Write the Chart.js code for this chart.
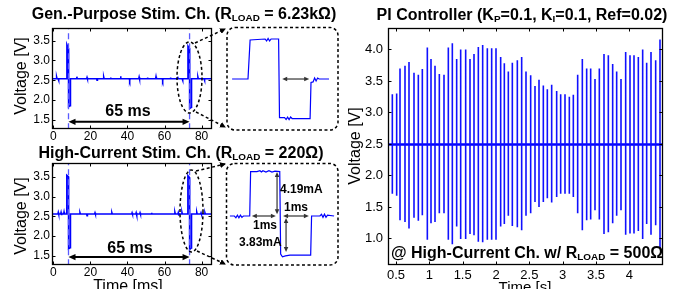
<!DOCTYPE html>
<html><head><meta charset="utf-8">
<script src="https://cdn.jsdelivr.net/npm/chart.js@4.4.1/dist/chart.umd.min.js"></script>
<style>
html,body{margin:0;padding:0;background:#fff;}
#wrap{position:relative;width:679px;height:289px;overflow:hidden;font-family:"Liberation Sans",Arial,sans-serif;background:#fff;}
canvas{position:absolute;left:0;top:0;}
.t{position:absolute;white-space:nowrap;color:#000;line-height:1;transform:translate(-50%,-50%);}
.l{transform:translate(0,-50%);}
.r{transform:translate(-50%,-50%) rotate(-90deg);}
.b{font-weight:bold;}
sub{font-size:62%;vertical-align:-0.2em;line-height:0;}
svg{position:absolute;left:0;top:0;}
</style></head>
<body>
<div id="wrap">
<canvas id="cTL" width="679" height="289"></canvas>
<canvas id="cBL" width="679" height="289"></canvas>
<canvas id="cIT" width="679" height="289"></canvas>
<canvas id="cIB" width="679" height="289"></canvas>
<canvas id="cR" width="679" height="289"></canvas>
<svg width="679" height="289">
<defs>
<marker id="ah" markerWidth="6" markerHeight="6" refX="5" refY="3" orient="auto" markerUnits="userSpaceOnUse">
<path d="M0,0 L6,3 L0,6 z" fill="#000"/></marker>
</defs>
<g fill="none" stroke="#000" stroke-width="1.5" stroke-dasharray="3,2.5">
<ellipse cx="189.5" cy="77.5" rx="12.5" ry="35.5"/>
<ellipse cx="191.5" cy="211" rx="11.5" ry="41"/>
<line x1="195" y1="43" x2="225" y2="29" marker-end="url(#ah)"/>
<line x1="196" y1="112" x2="225" y2="127" marker-end="url(#ah)"/>
<line x1="196" y1="171" x2="225" y2="164" marker-end="url(#ah)"/>
<line x1="197" y1="251" x2="225" y2="264" marker-end="url(#ah)"/>
<rect x="227" y="27.5" width="111" height="102.5" rx="8"/>
<rect x="226.5" y="163.5" width="111.5" height="101.5" rx="8"/>
</g>
</svg>
<div class="t b" style="left:184px;top:14px;font-size:16px;">Gen.-Purpose Stim. Ch. (R<sub>LOAD</sub> = 6.23kΩ)</div>
<div class="t b" style="left:181px;top:153px;font-size:16px;">High-Current Stim. Ch. (R<sub>LOAD</sub> = 220Ω)</div>
<div class="t b" style="left:522px;top:15px;font-size:16px;">PI Controller (K<sub>P</sub>=0.1, K<sub>I</sub>=0.1, Ref=0.02)</div>
<div class="t r" style="left:21px;top:76px;font-size:16px;">Voltage [V]</div>
<div class="t r" style="left:21px;top:216px;font-size:16px;">Voltage [V]</div>
<div class="t r" style="left:355px;top:146px;font-size:16px;">Voltage [V]</div>
<div class="t" style="left:128px;top:286px;font-size:16px;">Time [ms]</div>
<div class="t" style="left:525px;top:286px;font-size:15px;">Time [s]</div>
<div class="t b" style="left:128px;top:111px;font-size:16px;">65 ms</div>
<div class="t b" style="left:130px;top:248px;font-size:16px;">65 ms</div>
<div class="t b l" style="left:391px;top:253px;font-size:16px;">@ High-Current Ch. w/ R<sub>LOAD</sub> = 500Ω</div>
<div class="t b l" style="left:280px;top:189px;font-size:12px;">4.19mA</div>
<div class="t b l" style="left:284px;top:207px;font-size:12px;">1ms</div>
<div class="t b l" style="left:253px;top:225px;font-size:12px;">1ms</div>
<div class="t b l" style="left:239px;top:242px;font-size:12px;">3.83mA</div>
</div>
<script>
// ---------------- DATA ----------------
// General-purpose channel trace [time ms, voltage V]
const gpTrace = [[-1,2.54],[1.6,2.54],[1.8,2.58],[2.0,2.54],[2.6,2.54],[2.8,2.50],[3.0,2.54],
 [7.3,2.54],[7.35,3.40],[8.2,3.30],[8.25,1.83],[9.2,1.86],[9.25,2.54],
 [12.5,2.54],[12.7,2.59],[12.9,2.54],[18.0,2.54],[18.2,2.57],[18.4,2.54],[23.4,2.54],[23.6,2.50],[23.8,2.54],
 [27.0,2.54],[27.2,2.58],[27.4,2.54],[30.7,2.54],[30.9,2.57],[31.1,2.54],[36.1,2.54],[36.3,2.60],[36.5,2.54],
 [41.0,2.54],[41.2,2.50],[41.4,2.54],[46.1,2.54],[46.3,2.58],[46.5,2.54],[50.6,2.54],[50.8,2.57],[51.0,2.54],
 [55.2,2.54],[55.4,2.59],[55.6,2.54],[58.8,2.54],[59.0,2.50],[59.2,2.54],[63.0,2.54],[63.2,2.57],[63.4,2.54],
 [66.9,2.54],[67.1,2.59],[67.3,2.54],[69.5,2.54],[69.7,2.50],[69.9,2.54],
 [72.6,2.54],[72.65,3.36],[73.5,3.30],[73.55,1.79],[74.5,1.82],[74.55,2.54],
 [77.8,2.54],[78.0,2.58],[78.2,2.54],[81.3,2.54],[81.5,2.50],[81.7,2.54],[87,2.54]];
// High-current channel trace [time ms, voltage V]
const hcTrace = [[-1,2.56],[2.5,2.56],[2.7,2.60],[2.9,2.56],[4.0,2.56],[4.2,2.60],[4.4,2.53],[4.6,2.56],[5.6,2.56],[5.8,2.61],[6.0,2.56],
 [7.25,2.56],[7.3,3.54],[8.2,3.50],[8.25,1.68],[9.2,1.71],[9.25,2.56],
 [14.2,2.56],[14.4,2.59],[14.6,2.56],[18.0,2.56],[18.2,2.52],[18.4,2.56],[22.3,2.56],[22.5,2.59],[22.7,2.56],
 [31.4,2.56],[31.6,2.59],[31.8,2.56],[42.3,2.56],[42.5,2.59],[42.7,2.56],[44.5,2.56],[44.7,2.59],[44.9,2.53],[45.1,2.56],
 [46.6,2.56],[46.8,2.59],[47.0,2.56],[52.8,2.56],[53.0,2.59],[53.2,2.56],[65.4,2.56],[65.6,2.60],[65.8,2.56],
 [67.2,2.56],[67.4,2.59],[67.6,2.52],[67.8,2.56],[69.2,2.56],[69.4,2.60],[69.6,2.56],
 [72.55,2.56],[72.6,3.53],[73.5,3.48],[73.55,1.66],[74.5,1.70],[74.55,2.56],
 [77.2,2.56],[77.4,2.60],[77.6,2.56],[79.5,2.56],[79.7,2.59],[79.9,2.56],[81.6,2.56],[81.8,2.59],[82.0,2.56],[87,2.56]];
const pulseTimes = [8.2, 73.5];           // ms, dashed markers
const periodArrow = [8.2, 73.5];          // ms, "65 ms" arrow ends
// zoomed pulses [time ms, voltage V]
const gpZoomTrace = [[0,2.54],[0.53,2.54],[0.6,3.34],[1.1,3.36],[1.15,3.32],[1.2,3.37],[1.25,3.32],[1.3,3.36],[1.55,3.36],
 [1.58,1.75],[1.75,1.75],[1.8,1.71],[1.85,1.76],[1.9,1.71],[1.95,1.76],[2.0,1.73],[2.6,1.73],
 [2.63,2.47],[2.7,2.48],[2.75,2.56],[2.8,2.50],[2.85,2.56],[2.9,2.54],[3.23,2.54]];
const hcZoomTrace = [[0,2.56],[0.15,2.56],[0.2,2.52],[0.25,2.58],[0.3,2.52],[0.35,2.58],[0.4,2.53],[0.45,2.56],[0.66,2.56],
 [0.69,3.56],[0.9,3.56],[1.0,3.58],[1.05,3.55],[1.1,3.58],[1.2,3.55],[1.3,3.58],[1.4,3.55],[1.5,3.57],[1.66,3.56],
 [1.69,1.70],[1.75,1.64],[1.85,1.66],[2.0,1.68],[2.69,1.68],[2.72,2.56],[3.0,2.56],[3.05,2.60],[3.1,2.53],[3.15,2.60],
 [3.2,2.53],[3.25,2.58],[3.47,2.56]];
// PI controller pulses
const piTime = [0.445,0.51,0.56,0.635,0.695,0.77,0.835,0.895,0.97,1.025,1.085,1.15,1.22,1.285,1.345,1.41,1.47,1.545,1.61,1.67,
 1.735,1.80,1.87,1.935,2.00,2.07,2.125,2.185,2.245,2.32,2.385,2.45,2.52,2.585,2.645,2.71,2.77,2.835,2.91,2.97,
 3.035,3.10,3.16,3.225,3.295,3.36,3.42,3.485,3.55,3.62,3.685,3.75,3.81,3.875,3.945,4.01,4.07,4.135,4.20,4.26,4.325,4.395,4.46];
const piHigh = [3.29,3.30,3.70,3.74,3.80,3.63,3.60,3.69,4.03,3.85,3.74,3.61,3.60,4.03,4.10,3.85,4.00,4.00,3.85,3.93,
 4.04,4.07,4.02,4.02,4.02,3.88,3.78,3.65,3.79,3.83,3.88,3.65,3.59,3.42,3.52,3.43,3.37,3.44,3.34,3.29,
 3.29,3.25,3.28,3.60,3.85,3.70,3.70,3.53,3.70,3.93,3.91,3.77,3.65,3.53,3.96,3.91,3.91,3.88,4.00,3.79,3.96,3.83,4.16];
const piLow = [1.71,1.68,1.29,1.26,1.16,1.33,1.28,1.37,0.98,1.24,1.26,1.40,1.40,0.98,0.91,1.19,0.99,0.99,1.07,1.05,
 0.95,0.94,0.98,0.98,0.98,1.19,1.23,1.36,1.20,1.18,1.13,1.36,1.40,1.58,1.50,1.58,1.64,1.57,1.66,1.71,
 1.71,1.71,1.66,1.40,1.13,1.29,1.30,1.45,1.30,1.07,1.10,1.24,1.36,1.45,1.06,1.08,1.08,1.12,0.99,1.23,1.06,1.21,0.84];
const piBaseline = 2.49;
// ticks
const leftXTicks = [0,20,40,60,80];
const leftYTicks = [1.5,2.0,2.5,3.0,3.5];
const rightXTicks = [0.5,1,1.5,2,2.5,3,3.5,4];
const rightYTicks = [1.0,1.5,2.0,2.5,3.0,3.5,4.0];

// ---------------- PLUGINS ----------------
Chart.defaults.font.family = "'Liberation Sans', Arial, sans-serif";
Chart.defaults.color = '#000';
const framePlugin = {
  id:'frame',
  afterDraw(chart, args, o){
    if(!o || !o.on) return;
    const ctx = chart.ctx, a = chart.chartArea, xs = chart.scales.x, ys = chart.scales.y;
    ctx.save(); ctx.strokeStyle = '#000'; ctx.lineWidth = 1;
    const L = Math.round(a.left)+0.5, R = Math.round(a.right)-0.5, T = Math.round(a.top)+0.5, B = Math.round(a.bottom)-0.5;
    const len = o.len || 3;
    ctx.beginPath();
    xs.ticks.forEach(t=>{const x=Math.round(xs.getPixelForValue(t.value))+0.5; ctx.moveTo(x,B); ctx.lineTo(x,B-len); ctx.moveTo(x,T); ctx.lineTo(x,T+len);});
    ys.ticks.forEach(t=>{const y=Math.round(ys.getPixelForValue(t.value))+0.5; ctx.moveTo(L,y); ctx.lineTo(L+len,y); ctx.moveTo(R,y); ctx.lineTo(R-len,y);});
    ctx.stroke();
    ctx.lineWidth = 1.3;
    ctx.strokeRect(L,T,R-L,B-T);
    ctx.restore();
  }
};
function head(ctx,x,y,ang,s){
  const w = s*0.45;
  ctx.beginPath(); ctx.moveTo(x,y);
  ctx.lineTo(x - s*Math.cos(ang) + w*Math.sin(ang), y - s*Math.sin(ang) - w*Math.cos(ang));
  ctx.lineTo(x - s*Math.cos(ang) - w*Math.sin(ang), y - s*Math.sin(ang) + w*Math.cos(ang));
  ctx.closePath(); ctx.fill();
}
const annotPlugin = {
  id:'annot',
  afterDatasetsDraw(chart, args, o){
    if(!o || !o.arrows) return;
    const ctx = chart.ctx, xs = chart.scales.x, ys = chart.scales.y;
    ctx.save();
    o.arrows.forEach(a=>{
      const x1=xs.getPixelForValue(a.x1), y1=ys.getPixelForValue(a.y1), x2=xs.getPixelForValue(a.x2), y2=ys.getPixelForValue(a.y2);
      const ang=Math.atan2(y2-y1,x2-x1), h=a.head||6;
      ctx.strokeStyle = ctx.fillStyle = a.color || '#000';
      ctx.lineWidth = a.width || 1;
      ctx.beginPath();
      ctx.moveTo(x1+Math.cos(ang)*h*0.7, y1+Math.sin(ang)*h*0.7);
      ctx.lineTo(x2-Math.cos(ang)*h*0.7, y2-Math.sin(ang)*h*0.7);
      ctx.stroke();
      head(ctx,x2,y2,ang,h); head(ctx,x1,y1,ang+Math.PI,h);
    });
    ctx.restore();
  }
};
Chart.register(framePlugin, annotPlugin);

// ---------------- HELPERS ----------------
const toXY = tr => tr.map(p=>({x:p[0], y:p[1]}));
function axisPlot(box, xr, yr, xt, yt, xfmt, yfmt, fs, xPad, yPad, xH, annot){
  const yW = box.l - box.padL;
  return {
    responsive:false, animation:false, devicePixelRatio:1, events:[],
    layout:{padding:{left:box.padL, right:679-box.r, top:box.t, bottom:289-box.b-xH}},
    plugins:{legend:{display:false}, tooltip:{enabled:false}, frame:{on:true, len:3}, annot:annot||{}},
    scales:{
      x:{type:'linear', min:xr[0], max:xr[1],
         afterBuildTicks:s=>{s.ticks = xt.map(v=>({value:v}));},
         afterFit:s=>{s.height=xH; s.paddingLeft=0; s.paddingRight=0;},
         grid:{display:false, drawTicks:false}, border:{display:false},
         ticks:{font:{size:fs}, color:'#000', padding:xPad, maxRotation:0, autoSkip:false, callback:xfmt}},
      y:{type:'linear', min:yr[0], max:yr[1],
         afterBuildTicks:s=>{s.ticks = yt.map(v=>({value:v}));},
         afterFit:s=>{s.width=yW; s.paddingTop=0; s.paddingBottom=0;},
         grid:{display:false, drawTicks:false}, border:{display:false},
         ticks:{font:{size:fs}, color:'#000', padding:yPad, autoSkip:false, callback:yfmt}}
    }
  };
}
const BLUE = '#0000ff';
function markerSets(){
  return pulseTimes.map(t=>({type:'line', data:[{x:t,y:0},{x:t,y:5}], borderColor:'#5a5aff', borderWidth:1.3, borderDash:[6,4], pointRadius:0}));
}
const f1 = v=>Number(v).toFixed(1);
const f0 = v=>String(v);

// ---------------- LEFT TOP ----------------
new Chart(document.getElementById('cTL'), {
  type:'line',
  data:{datasets:[...markerSets(), {data:toXY(gpTrace), borderColor:BLUE, borderWidth:1.6, pointRadius:0, tension:0}]},
  options: axisPlot({l:52,r:212,t:28,b:129,padL:0}, [-0.7,85.6], [1.27,3.82], leftXTicks, leftYTicks, f0, f1, 12, 0, 2, 16,
    {arrows:[{x1:periodArrow[0], y1:1.45, x2:periodArrow[1], y2:1.45, width:2, head:7}]})
});
// ---------------- LEFT BOTTOM ----------------
new Chart(document.getElementById('cBL'), {
  type:'line',
  data:{datasets:[...markerSets(), {data:toXY(hcTrace), borderColor:BLUE, borderWidth:1.6, pointRadius:0, tension:0}]},
  options: axisPlot({l:52,r:212,t:163,b:265,padL:0}, [-0.7,85.6], [1.27,3.85], leftXTicks, leftYTicks, f0, f1, 12, 0, 2, 24,
    {arrows:[{x1:periodArrow[0], y1:1.47, x2:periodArrow[1], y2:1.47, width:2, head:7}]})
});
// ---------------- INSETS ----------------
function insetOpts(box, xr, yr, arrows){
  return {
    responsive:false, animation:false, devicePixelRatio:1, events:[],
    layout:{padding:{left:box.l, right:679-box.r, top:box.t, bottom:289-box.b}},
    plugins:{legend:{display:false}, tooltip:{enabled:false}, annot:{arrows:arrows}},
    scales:{x:{type:'linear', display:false, min:xr[0], max:xr[1]}, y:{type:'linear', display:false, min:yr[0], max:yr[1]}}
  };
}
new Chart(document.getElementById('cIT'), {
  type:'line',
  data:{datasets:[{data:toXY(gpZoomTrace), borderColor:BLUE, borderWidth:1.2, pointRadius:0, tension:0}]},
  options: insetOpts({l:227,r:338,t:27,b:130}, [-0.17,3.53], [1.495,3.606],
    [{x1:1.67, y1:2.54, x2:2.57, y2:2.54, width:1.2, head:5, color:'#333'}])
});
new Chart(document.getElementById('cIB'), {
  type:'line',
  data:{datasets:[{data:toXY(hcZoomTrace), borderColor:BLUE, borderWidth:1.2, pointRadius:0, tension:0}]},
  options: insetOpts({l:226,r:338,t:163,b:265}, [-0.13,3.6], [1.456,3.754],
    [{x1:1.57, y1:3.55, x2:1.57, y2:2.60, width:1.2, head:5, color:'#333'},
     {x1:0.73, y1:2.56, x2:1.53, y2:2.56, width:1.2, head:5, color:'#333'},
     {x1:1.77, y1:2.56, x2:2.63, y2:2.56, width:1.2, head:5, color:'#333'},
     {x1:1.87, y1:2.515, x2:1.87, y2:1.75, width:1.2, head:5, color:'#333'}])
});
// ---------------- RIGHT (PI controller) ----------------
const spikes = [];
piTime.forEach((t,i)=>{ spikes.push({x:t,y:piLow[i]}, {x:t,y:piHigh[i]}, {x:t,y:null}); });
new Chart(document.getElementById('cR'), {
  type:'line',
  data:{datasets:[
    {data:spikes, borderColor:'#1010ff', borderWidth:1.6, pointRadius:0, spanGaps:false, tension:0},
    {data:[{x:0.3,y:piBaseline},{x:4.6,y:piBaseline}], borderColor:BLUE, borderWidth:2.5, pointRadius:0}
  ]},
  options: axisPlot({l:388,r:663,t:28,b:265,padL:340}, [0.38,4.505], [0.579,4.341], rightXTicks, rightYTicks, f0, f1, 13, 3, 5, 24)
});
</script>
</body></html>
